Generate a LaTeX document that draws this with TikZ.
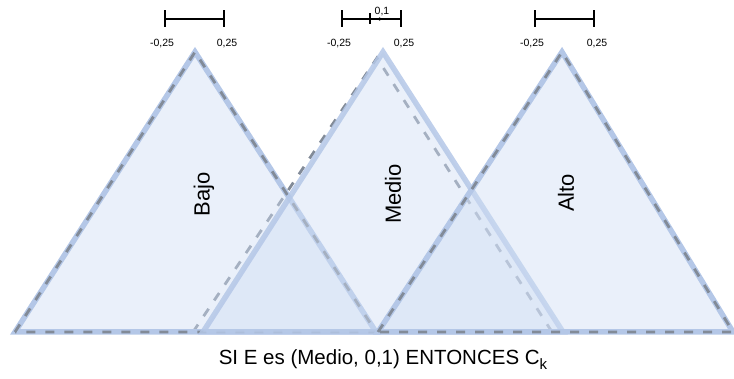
\documentclass[tikz,border=0pt]{standalone}
\usepackage{fontspec}
\setmainfont{Liberation Sans}
\usetikzlibrary{arrows.meta}
\definecolor{setfill}{HTML}{D0DEF4}
\definecolor{setedge}{HTML}{B4C7E7}
\definecolor{setdash}{HTML}{828B98}
\tikzset{
	setarea/.style={fill=setfill, fill opacity=0.45},
	setborder/.style={draw=setedge, line width=5.5pt, line join=miter},
	setdashed/.style={draw=setdash, line width=2.8pt, dash pattern=on 9pt off 10pt},
	setlabel/.style={rotate=90, font=\fontsize{22}{22}\selectfont},
	tick/.style={font=\fontsize{10.5}{10.5}\selectfont},
}
\begin{document}
\begin{tikzpicture}[x=1pt, y=-1pt]
	\useasboundingbox (0,0) rectangle (734,379);
	% Corners of the sets
	\coordinate (L0) at (15,332);
	\coordinate (L1) at (195,52);
	\coordinate (L2) at (376,332);
	\coordinate (M0) at (203,332);
	\coordinate (M1) at (383,52);
	\coordinate (M2) at (563,332);
	\coordinate (S0) at (193,332);
	\coordinate (S1) at (377,58);
	\coordinate (S2) at (552,332);
	\coordinate (H0) at (378,332);
	\coordinate (H1) at (562,52);
	\coordinate (H2) at (733,332);
	% Shifted set
	\draw[setdashed] (S0) -- (S1) -- (S2);
	% Low set
	\path[setarea] (L0) -- (L1) -- (L2) -- cycle;
	\draw[setborder] (L0) -- (L1) -- (L2) -- cycle;
	\draw[setdashed] (L0) -- (L1) -- (L2) -- cycle;
	% Middle set
	\path[setarea] (M0) -- (M1) -- (M2) -- cycle;
	\draw[setborder, draw opacity=0.85] (M0) -- (M1) -- (M2) -- cycle;
	% High set
	\path[setarea] (H0) -- (H1) -- (H2) -- cycle;
	\draw[setborder] (H0) -- (H1) -- (H2) -- cycle;
	\draw[setdashed] (H0) -- (H1) -- (H2) -- cycle;
	% Set names
	\node[setlabel] (bajo) at (204,194) {Bajo};
	\node[setlabel] (medio) at (393,194) {Medio};
	\node[setlabel] (alto) at (566,193) {Alto};
	% Width bars
	\foreach \x/\n in {165/a, 342/b, 535/c} {
		\coordinate (\n0) at (\x,19);
		\coordinate (\n1) at (\x+59,19);
		\draw[line width=1.4pt] (\n0) -- (\n1);
		\draw[line width=1.4pt] ([yshift=-8pt]\n0) -- ([yshift=9pt]\n0);
		\draw[line width=1.4pt] ([yshift=-8pt]\n1) -- ([yshift=9pt]\n1);
		\node[tick] (\n0t) at (\x-3,44) {-0,25};
		\node[tick] (\n1t) at (\x+62,44) {0,25};
	}
	% Shift on the middle bar
	\coordinate (sh0) at (370,19);
	\coordinate (sh1) at (383,19);
	\draw[line width=1.2pt] ([yshift=-5pt]sh0) -- ([yshift=6pt]sh0);
	\draw[-{Stealth[length=4pt,width=3.5pt]}, line width=0.8pt] (sh0) -- (sh1);
	\node[tick] (shift) at (382,12) {0,1};
	% Rule
	\node[font=\fontsize{20.5}{20.5}\selectfont] (rule) at (383,360)
		{SI E es (Medio, 0,1) ENTONCES C\raisebox{-0.45ex}{\fontsize{15}{15}\selectfont k}};
\end{tikzpicture}
\end{document}
